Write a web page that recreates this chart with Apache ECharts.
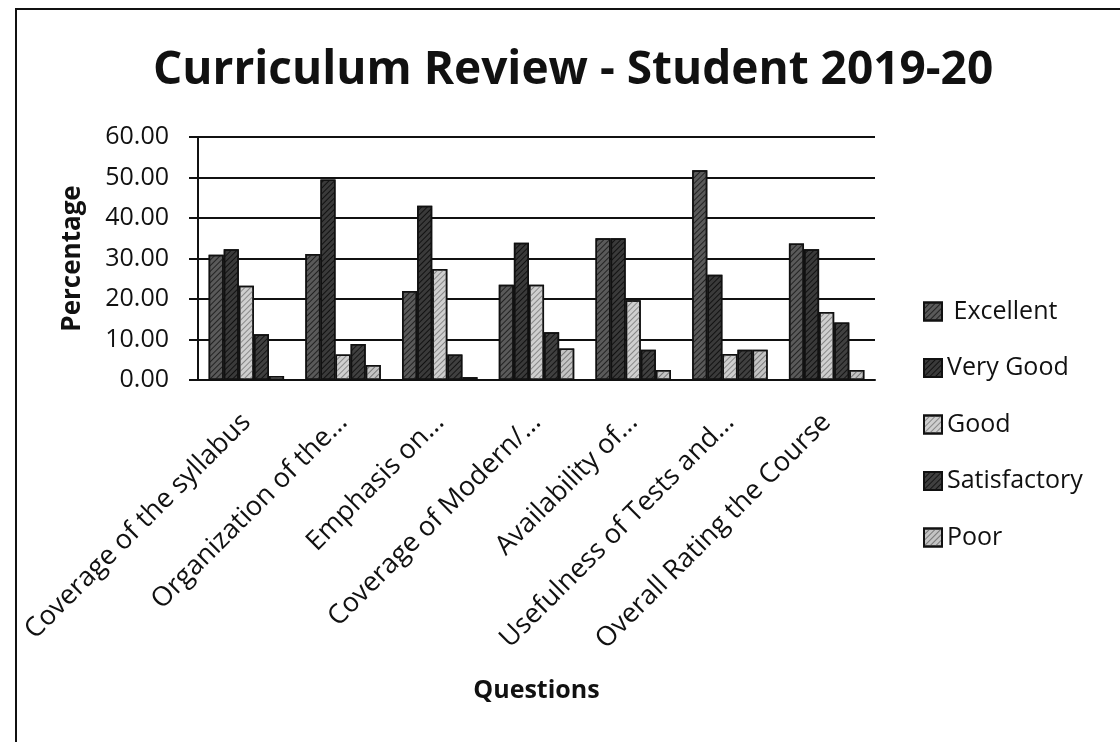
<!DOCTYPE html>
<html>
<head>
<meta charset="utf-8">
<script src="https://cdn.jsdelivr.net/npm/echarts@6/dist/echarts.min.js"></script>
<style>
  html, body { margin: 0; padding: 0; background: #fff; }
  #main { width: 1120px; height: 742px; }
</style>
</head>
<body>
<div id="main"></div>
<script>
// questions on the x axis
const questions = [
  'Coverage of the syllabus',
  'Organization of the...',
  'Emphasis on...',
  'Coverage of Modern/...',
  'Availability of...',
  'Usefulness of Tests and...',
  'Overall Rating the Course'
]
// percentages per rating
const excellent = [30.9, 31.1, 22.0, 23.5, 35.0, 51.8, 33.7]
const veryGood = [32.3, 49.5, 43.0, 33.9, 35.0, 26.0, 32.3]
const good = [23.3, 6.3, 27.4, 23.5, 19.7, 6.4, 16.8]
const satisfactory = [11.3, 8.9, 6.3, 11.8, 7.5, 7.5, 14.2]
const poor = [1.0, 3.7, 0.7, 7.8, 2.5, 7.5, 2.5]
const yTicks = [0, 10, 20, 30, 40, 50, 60]

const font = '"Open Sans", sans-serif'

const myChart = echarts.init(document.getElementById('main'))

function bar(name, data, color, lineColor) {
  return {
    name: name,
    type: 'bar',
    data: data,
    barGap: '0%',
    barCategoryGap: '22%',
    itemStyle: {
      color: color,
      borderColor: '#111',
      borderWidth: 1.5,
      decal: {
        symbol: 'rect',
        symbolSize: 1,
        color: lineColor,
        dashArrayX: [1, 0],
        dashArrayY: [1, 3],
        rotation: -Math.PI / 4
      }
    }
  }
}

const option = {
  backgroundColor: '#fff',
  animation: false,
  title: {
    text: 'Curriculum Review - Student 2019-20',
    left: 148,
    top: 43,
    textStyle: {
      fontFamily: font,
      fontSize: 46,
      fontWeight: 'bold',
      color: '#111'
    }
  },
  graphic: [{
    type: 'rect',
    shape: { x: 16, y: 9, width: 1200, height: 800 },
    style: { fill: 'none', stroke: '#111', lineWidth: 2 }
  }],
  legend: {
    orient: 'vertical',
    left: 918,
    top: 294,
    itemWidth: 18,
    itemHeight: 18,
    itemGap: 31.5,
    icon: 'rect',
    textStyle: {
      fontFamily: font,
      fontSize: 25,
      color: '#111'
    },
    data: [' Excellent', 'Very Good', 'Good', 'Satisfactory', 'Poor']
  },
  grid: {
    left: 198,
    right: 245,
    top: 137,
    bottom: 362
  },
  xAxis: {
    type: 'category',
    data: questions,
    name: 'Questions',
    nameLocation: 'middle',
    nameGap: 298,
    nameTextStyle: {
      fontFamily: font,
      fontSize: 25,
      fontWeight: 'bold',
      color: '#111'
    },
    axisLine: { lineStyle: { color: '#111', width: 2 } },
    axisTick: { show: false },
    axisLabel: {
      rotate: 45,
      interval: 0,
      margin: 38,
      fontFamily: font,
      fontSize: 27,
      color: '#111'
    }
  },
  yAxis: {
    type: 'value',
    min: yTicks[0],
    max: yTicks[yTicks.length - 1],
    interval: 10,
    name: 'Percentage',
    nameLocation: 'middle',
    nameGap: 112,
    nameRotate: 90,
    nameTextStyle: {
      fontFamily: font,
      fontSize: 26,
      fontWeight: 'bold',
      color: '#111'
    },
    axisLine: { show: true, lineStyle: { color: '#111', width: 2 } },
    axisTick: { show: true, inside: false, length: 9, lineStyle: { color: '#111', width: 2 } },
    axisLabel: {
      margin: 29,
      fontFamily: font,
      fontSize: 25,
      color: '#111',
      formatter: v => v.toFixed(2)
    },
    splitLine: { lineStyle: { color: '#111', width: 2 } }
  },
  series: [
    bar(' Excellent', excellent, '#5a5a5a', '#222'),
    bar('Very Good', veryGood, '#3a3a3a', '#111'),
    bar('Good', good, '#cfcfcf', '#888'),
    bar('Satisfactory', satisfactory, '#404040', '#151515'),
    bar('Poor', poor, '#c4c4c4', '#777')
  ]
}

myChart.setOption(option)
</script>
</body>
</html>
